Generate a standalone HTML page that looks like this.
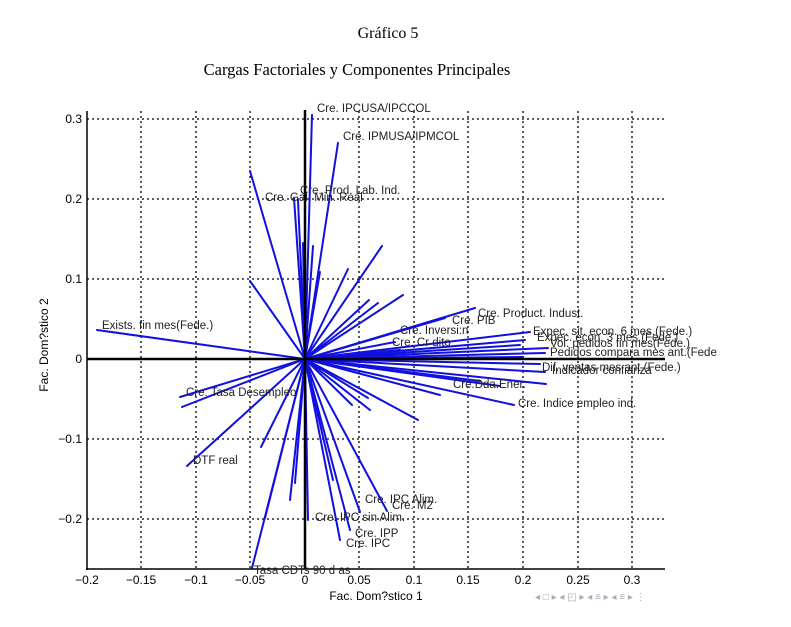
<!DOCTYPE html>
<html><head><meta charset="utf-8"><style>body{margin:0;background:#fff}</style></head><body>
<svg width="791" height="622" xmlns="http://www.w3.org/2000/svg" font-family="Liberation Sans, sans-serif">
<rect width="791" height="622" fill="#fff"/>
<text x="388" y="38" font-family="Liberation Serif, serif" font-size="16" text-anchor="middle">Gráfico 5</text>
<text x="357" y="75" font-family="Liberation Serif, serif" font-size="16.5" text-anchor="middle">Cargas Factoriales y Componentes Principales</text>
<!-- grid -->
<g stroke="#000" stroke-width="1.3" stroke-dasharray="2,3">
<line x1="141" y1="111" x2="141" y2="569"/><line x1="196" y1="111" x2="196" y2="569"/><line x1="250" y1="111" x2="250" y2="569"/>
<line x1="359" y1="111" x2="359" y2="569"/><line x1="414" y1="111" x2="414" y2="569"/><line x1="468" y1="111" x2="468" y2="569"/>
<line x1="523" y1="111" x2="523" y2="569"/><line x1="578" y1="111" x2="578" y2="569"/><line x1="632" y1="111" x2="632" y2="569"/>
<line x1="87" y1="119" x2="665" y2="119"/><line x1="87" y1="199" x2="665" y2="199"/><line x1="87" y1="279" x2="665" y2="279"/>
<line x1="87" y1="439" x2="665" y2="439"/><line x1="87" y1="519" x2="665" y2="519"/>
</g>
<!-- vectors -->
<g stroke="#1010e0" stroke-width="2" stroke-linecap="round">
<line x1="305" y1="359" x2="312" y2="115"/><line x1="305" y1="359" x2="338" y2="143"/><line x1="305" y1="359" x2="250" y2="171"/>
<line x1="305" y1="359" x2="294" y2="198"/><line x1="305" y1="359" x2="298" y2="200"/><line x1="305" y1="359" x2="303" y2="243"/>
<line x1="305" y1="359" x2="313" y2="246"/><line x1="305" y1="359" x2="382" y2="246"/><line x1="305" y1="359" x2="348" y2="269"/>
<line x1="305" y1="359" x2="320" y2="272"/><line x1="305" y1="359" x2="403" y2="295"/><line x1="305" y1="359" x2="369" y2="300"/>
<line x1="305" y1="359" x2="378" y2="303"/><line x1="305" y1="359" x2="250" y2="281"/><line x1="305" y1="359" x2="97" y2="330"/>
<line x1="305" y1="359" x2="180" y2="397"/><line x1="305" y1="359" x2="182" y2="407"/><line x1="305" y1="359" x2="187" y2="466"/>
<line x1="305" y1="359" x2="261" y2="447"/><line x1="305" y1="359" x2="252" y2="568"/><line x1="305" y1="359" x2="265" y2="518"/>
<line x1="305" y1="359" x2="290" y2="500"/><line x1="305" y1="359" x2="295" y2="483"/><line x1="305" y1="359" x2="308" y2="520"/>
<line x1="305" y1="359" x2="333" y2="480"/><line x1="305" y1="359" x2="340" y2="540"/><line x1="305" y1="359" x2="350" y2="530"/>
<line x1="305" y1="359" x2="360" y2="512"/><line x1="305" y1="359" x2="387" y2="511"/><line x1="305" y1="359" x2="418" y2="420"/>
<line x1="305" y1="359" x2="370" y2="410"/><line x1="305" y1="359" x2="352" y2="405"/><line x1="305" y1="359" x2="368" y2="398"/>
<line x1="305" y1="359" x2="475" y2="308"/><line x1="305" y1="359" x2="445" y2="318"/><line x1="305" y1="359" x2="420" y2="325"/>
<line x1="305" y1="359" x2="530" y2="332"/><line x1="305" y1="359" x2="525" y2="340"/><line x1="305" y1="359" x2="520" y2="345"/>
<line x1="305" y1="359" x2="548" y2="348"/><line x1="305" y1="359" x2="545" y2="353"/><line x1="305" y1="359" x2="523" y2="357"/>
<line x1="305" y1="359" x2="540" y2="364"/><line x1="305" y1="359" x2="545" y2="372"/><line x1="305" y1="359" x2="546" y2="384"/>
<line x1="305" y1="359" x2="500" y2="386"/><line x1="305" y1="359" x2="480" y2="381"/><line x1="305" y1="359" x2="514" y2="405"/>
<line x1="305" y1="359" x2="440" y2="395"/><line x1="305" y1="359" x2="395" y2="342"/><line x1="305" y1="359" x2="400" y2="350"/>
</g>
<!-- axes -->
<g stroke="#000">
<line x1="87" y1="111" x2="87" y2="570" stroke-width="1.5"/>
<line x1="86" y1="569" x2="665" y2="569" stroke-width="1.5"/>
<line x1="87" y1="359" x2="665" y2="359" stroke-width="2.5"/>
<line x1="305" y1="110" x2="305" y2="569" stroke-width="2.5"/>
</g>
<g font-size="12" fill="#000">
<text x="82" y="123" text-anchor="end">0.3</text><text x="82" y="203" text-anchor="end">0.2</text><text x="82" y="283" text-anchor="end">0.1</text>
<text x="82" y="363" text-anchor="end">0</text><text x="82" y="443" text-anchor="end">−0.1</text><text x="82" y="523" text-anchor="end">−0.2</text>
<text x="87" y="584" text-anchor="middle">−0.2</text><text x="141" y="584" text-anchor="middle">−0.15</text><text x="196" y="584" text-anchor="middle">−0.1</text>
<text x="250" y="584" text-anchor="middle">−0.05</text><text x="305" y="584" text-anchor="middle">0</text><text x="359" y="584" text-anchor="middle">0.05</text>
<text x="414" y="584" text-anchor="middle">0.1</text><text x="468" y="584" text-anchor="middle">0.15</text><text x="523" y="584" text-anchor="middle">0.2</text>
<text x="578" y="584" text-anchor="middle">0.25</text><text x="632" y="584" text-anchor="middle">0.3</text>
<text x="376" y="600" text-anchor="middle">Fac. Dom?stico 1</text>
<text transform="translate(48,345) rotate(-90)" text-anchor="middle">Fac. Dom?stico 2</text>
</g>
<g font-size="11.5" fill="#222">
<text x="317" y="112">Cre. IPCUSA/IPCCOL</text><text x="343" y="140">Cre. IPMUSA/IPMCOL</text>
<text x="300" y="194">Cre. Prod. Lab. Ind.</text><text x="265" y="201">Cre. Gal. Min. Real</text>
<text x="102" y="329">Exists. fin mes(Fede.)</text>
<text x="478" y="317">Cre. Product. Indust.</text><text x="452" y="324">Cre. PIB</text>
<text x="400" y="334">Cre. Inversi:n</text><text x="392" y="346">Cre. Cr dito</text>
<text x="533" y="335">Expec. sit. econ. 6 mes.(Fede.)</text><text x="537" y="341">Expec. econ. 3 mes.(Fede.)</text>
<text x="550" y="347">Vol. pedidos fin mes(Fede.)</text><text x="550" y="356">Pedidos compara mes ant.(Fede</text>
<text x="542" y="371">Dif. ventas mes ant.(Fede.)</text><text x="552" y="374">Indicador confianza</text>
<text x="453" y="388">Cre.Dda.Ener.</text><text x="518" y="407">Cre. Indice empleo ind.</text>
<text x="186" y="396">Cre. Tasa Desempleo</text><text x="193" y="464">DTF real</text>
<text x="365" y="503">Cre. IPC Alim.</text><text x="392" y="509">Cre. M2</text>
<text x="315" y="521">Cre. IPC sin Alim.</text><text x="355" y="537">Cre. IPP</text><text x="346" y="547">Cre. IPC</text>
<text x="254" y="574">Tasa CDTs 90 d as</text>
</g>
<g font-size="10" fill="#aab">
<text x="535" y="600">◂ □ ▸ ◂ ◰ ▸ ◂ ≡ ▸ ◂ ≡ ▸   ⋮</text>
</g>
</svg>
</body></html>
